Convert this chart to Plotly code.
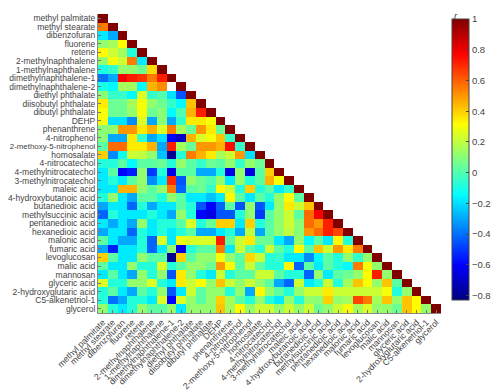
import plotly.graph_objects as go

names = ['methyl palmitate', 'methyl stearate', 'dibenzofuran', 'fluorene', 'retene',
         '2-methylnaphthalene', '1-methylnaphthalene', 'dimethylnaphthalene-1',
         'dimethylnaphthalene-2', 'diethyl phthalate', 'diisobutyl phthalate',
         'dibutyl phthalate', 'DEHP', 'phenanthrene', '4-nitrophenol',
         '2-methoxy-5-nitrophenol', 'homosalate', '4-nitrocatechol',
         '4-methylnitrocatechol', '3-methylnitrocatechol', 'maleic acid',
         '4-hydroxybutanoic acid', 'butanedioic acid', 'methylsuccinic acid',
         'pentanedioic acid', 'hexanedioic acid', 'malonic acid', 'fumaric acid',
         'levoglucosan', 'malic acid', 'mannosan', 'glyceric acid',
         '2-hydroxyglutaric acid', 'C5-alkenetriol-1', 'glycerol']

# lower triangle of r, row i holds columns 0..i-1 (None = not available)
r_rows = [
    [],
    [0.55],
    [-0.18, -0.3],
    [0.12, 0.15, 0.32],
    [0.32, 0.22, 0.15, -0.08],
    [0.12, 0.3, 0.22, 0.55, -0.18],
    [-0.1, -0.05, 0.12, 0.12, 0.05, 0.38],
    [-0.4, -0.3, 0.78, 0.72, 0.68, 0.55, 0.72],
    [-0.1, -0.15, 0.15, 0.15, -0.15, 0.45, 0.52, None],
    [0.1, -0.05, -0.05, -0.15, 0.25, -0.05, 0.0, -0.2, -0.45],
    [0.35, 0.05, 0.05, 0.15, 0.3, 0.12, 0.05, -0.05, -0.15, 0.42],
    [0.3, 0.05, 0.05, 0.12, 0.3, 0.05, 0.1, -0.15, 0.0, 0.45, 0.72],
    [0.3, -0.2, -0.2, -0.35, 0.25, -0.3, 0.1, -0.3, -0.05, 0.35, 0.35, 0.3],
    [0.1, 0.12, 0.5, 0.5, 0.35, 0.45, 0.25, 0.55, 0.15, 0.05, 0.5, 0.35, 0.05],
    [0.1, -0.3, -0.3, 0.35, -0.05, -0.3, -0.2, -0.6, -0.7, 0.45, 0.25, 0.3, 0.42, -0.05],
    [0.02, 0.58, 0.58, 0.35, 0.35, 0.45, -0.3, 0.72, 0.15, 0.05, 0.5, 0.5, 0.45, 0.75, -0.05],
    [0.4, -0.35, -0.12, 0.22, 0.2, 0.12, -0.25, -0.8, -0.08, 0.55, 0.45, 0.35, 0.15, 0.22, 0.5, -0.2],
    [-0.08, -0.08, 0.02, -0.15, 0.02, 0.02, 0.05, -0.08, 0.12, 0.02, -0.05, 0.05, 0.02, 0.12, -0.05,
     0.12, 0.05],
    [-0.18, 0.02, -0.6, -0.55, 0.12, -0.5, -0.08, -0.65, 0.02, 0.02, -0.3, -0.3, -0.08, -0.65, 0.12,
     -0.65, 0.02, 0.4],
    [-0.18, -0.08, -0.18, 0.02, 0.12, -0.35, -0.18, 0.7, -0.45, 0.12, 0.05, 0.0, 0.12, -0.18, 0.12,
     -0.08, 0.02, 0.45, 0.3],
    [-0.18, -0.18, 0.45, 0.45, 0.12, 0.02, 0.12, 0.55, -0.42, 0.02, 0.05, -0.05, 0.32, 0.22, -0.08,
     0.4, -0.08, 0.02, -0.18, -0.05],
    [-0.08, 0.12, -0.18, -0.3, 0.02, 0.02, -0.08, 0.12, 0.02, -0.18, -0.18, -0.25, -0.18, 0.32, 0.02,
     -0.18, 0.02, -0.08, 0.12, 0.32, 0.02],
    [-0.3, -0.18, -0.18, -0.42, -0.08, -0.3, -0.18, -0.18, 0.02, -0.08, -0.45, -0.6, -0.42, 0.02, -0.45,
     0.12, -0.45, -0.18, 0.12, 0.35, 0.22, 0.42],
    [-0.42, -0.08, -0.18, -0.18, -0.18, -0.08, -0.18, -0.3, 0.12, -0.08, -0.6, -0.65, -0.45, -0.45, -0.08,
     0.12, -0.5, 0.02, 0.12, 0.22, 0.02, 0.58, 0.78],
    [-0.18, -0.3, -0.18, -0.3, 0.12, -0.18, -0.08, -0.08, 0.02, 0.25, -0.08, 0.05, 0.4, 0.4, -0.18,
     0.4, -0.08, 0.02, 0.12, 0.22, 0.1, 0.58, 0.5, 0.72],
    [-0.3, -0.18, -0.18, -0.42, -0.08, -0.18, -0.08, -0.18, -0.08, 0.02, -0.3, -0.3, -0.18, -0.08, -0.3,
     0.2, -0.3, 0.02, 0.12, 0.2, 0.1, 0.5, 0.58, 0.72, 0.65],
    [0.02, -0.18, -0.3, -0.3, -0.08, -0.42, 0.25, -0.18, 0.28, 0.25, 0.25, 0.25, 0.72, 0.02, 0.22,
     0.35, 0.05, 0.05, -0.18, -0.3, 0.12, -0.15, 0.02, -0.18, 0.32, -0.08],
    [-0.3, -0.55, -0.18, -0.18, -0.08, -0.42, -0.18, 0.12, -0.65, -0.08, 0.02, 0.02, 0.55, -0.18, 0.22,
     0.02, -0.08, 0.22, 0.02, -0.08, 0.32, 0.02, 0.42, 0.22, 0.5, 0.35, 0.55],
    [0.4, 0.02, -0.18, -0.18, 0.12, 0.02, 0.02, -0.8, 0.4, 0.02, 0.12, 0.12, 0.3, 0.12, 0.02,
     0.38, 0.22, -0.08, -0.05, -0.18, -0.18, -0.35, -0.15, 0.02, -0.08, 0.12, -0.05, 0.12],
    [0.02, -0.18, -0.18, 0.12, -0.08, -0.08, 0.25, -0.08, 0.02, 0.12, 0.12, 0.05, 0.5, 0.32, 0.02,
     0.22, 0.02, -0.08, -0.08, 0.32, -0.42, 0.02, -0.18, 0.02, -0.08, -0.15, 0.55, 0.3, 0.12],
    [-0.18, 0.02, -0.18, -0.3, 0.12, -0.08, 0.12, -0.45, 0.35, 0.12, -0.08, -0.18, 0.22, -0.08, 0.02,
     0.02, 0.22, 0.22, 0.02, -0.08, -0.08, -0.42, 0.12, -0.18, 0.02, 0.05, 0.12, 0.32, 0.72, 0.12],
    [0.25, -0.08, -0.08, 0.12, 0.12, 0.25, -0.08, -0.18, 0.35, 0.22, 0.32, 0.12, 0.42, 0.22, 0.12,
     0.22, 0.12, 0.02, -0.3, -0.42, 0.22, -0.18, -0.08, 0.22, -0.08, 0.15, 0.42, 0.3, 0.12, 0.42, 0.02],
    [-0.08, 0.02, -0.18, -0.3, 0.02, -0.08, 0.12, -0.45, -0.18, 0.22, 0.02, 0.12, 0.12, -0.08, 0.12,
     -0.3, 0.32, 0.12, 0.02, -0.08, 0.12, 0.22, 0.22, 0.35, 0.22, 0.22, 0.22, 0.22, 0.22, 0.3, -0.08, 0.12],
    [-0.08, -0.4, -0.3, -0.08, -0.08, -0.18, 0.25, -0.6, 0.25, 0.12, 0.02, 0.12, 0.4, 0.15, 0.02,
     -0.08, 0.12, -0.08, -0.18, 0.12, -0.08, 0.12, 0.1, 0.4, 0.12, 0.15, 0.65, 0.55, 0.15, 0.42, 0.12,
     0.42, 0.32],
    [0.12, -0.08, -0.18, -0.08, 0.12, 0.02, 0.02, 0.12, -0.18, 0.12, 0.12, 0.12, 0.42, 0.15, 0.32,
     0.12, 0.22, 0.22, 0.12, 0.22, 0.12, 0.22, 0.05, 0.12, 0.22, 0.3, 0.15, 0.25, 0.12, 0.12, 0.05,
     0.42, 0.32, 0.12],
]

n = len(names)
z = []
for i, row in enumerate(r_rows):
    assert len(row) == i, (i, len(row))
    z.append(row + [1.0] + [None] * (n - i - 1))

# matlab-style jet
jet = [[0, 'rgb(0,0,128)'], [0.125, 'rgb(0,0,255)'], [0.375, 'rgb(0,255,255)'],
       [0.625, 'rgb(255,255,0)'], [0.875, 'rgb(255,0,0)'], [1, 'rgb(128,0,0)']]

font = 'Liberation Sans, Arial, sans-serif'

# the longest row label gets a slightly smaller font so it fits at the left edge
ylabels = ['<span style="font-size:7.9px">%s</span>' % s if len(s) > 22 else s for s in names]

fig = go.Figure(go.Heatmap(
    z=z, x=list(range(n)), y=list(range(n)),
    colorscale=jet, zmin=-0.83, zmax=1,
    colorbar=dict(
        x=1.031, xanchor='left', xpad=0, y=0.983, yanchor='top', ypad=0,
        len=0.94, thickness=17, outlinewidth=1, outlinecolor='#444',
        tickvals=[1, 0.8, 0.6, 0.4, 0.2, 0, -0.2, -0.4, -0.6, -0.8],
        ticks='inside', ticklen=3, tickcolor='#444',
        tickfont=dict(size=9.5, color='#444', family=font),
    ),
))

fig.add_annotation(text='<i>r</i>', x=1.054, y=1.02, xref='paper', yref='paper',
                   yanchor='top', showarrow=False,
                   font=dict(size=9.5, color='#444', family=font))

# page body keeps its default 8px margin, so the figure is 8px smaller
fig.update_layout(
    width=492, height=384,
    margin=dict(l=90, r=51, t=6, b=79),
    plot_bgcolor='white', paper_bgcolor='white',
    font=dict(family=font, size=9, color='#444'),
)
fig.update_xaxes(range=[-0.5, n - 0.5], tickvals=list(range(n)), ticktext=names,
                 tickangle=-45, ticks='inside', ticklen=3, tickcolor='#777',
                 showline=True, linecolor='#888', linewidth=1, showgrid=False,
                 zeroline=False, automargin=False, tickfont=dict(size=8.7))
fig.update_yaxes(range=[n - 0.5, -0.5], tickvals=list(range(n)), ticktext=ylabels,
                 ticks='inside', ticklen=3, tickcolor='#777',
                 showline=True, linecolor='#888', linewidth=1, showgrid=False,
                 zeroline=False, automargin=False, tickfont=dict(size=8.5))

fig.write_html("out.html")
